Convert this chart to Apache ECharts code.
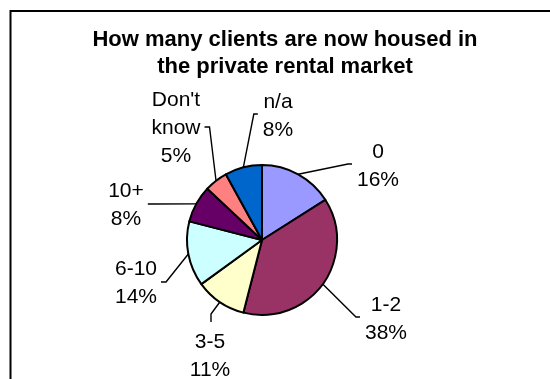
<!DOCTYPE html>
<html>
<head>
<meta charset="utf-8">
<script src="https://cdn.jsdelivr.net/npm/echarts@6/dist/echarts.min.js"></script>
<style>
  html, body { margin: 0; padding: 0; background: #ffffff; }
  #chart { width: 550px; height: 379px; }
</style>
</head>
<body>
<div id="chart"></div>
<script>
// Survey answers: number of clients now housed in the private rental market
const categories = ['0', '1-2', '3-5', '6-10', '10+', "Don't know", 'n/a'];
const shares = [16, 38, 11, 14, 8, 5, 8];
const sliceColors = ['#9999FF', '#993366', '#FFFFCC', '#CCFFFF', '#660066', '#FF8080', '#0066CC'];

const titleLines = ['How many clients are now housed in', 'the private rental market'];

// Where each label block sits and which side its leader line attaches to
const labelSpots = [
  { x: 378, y: 166, side: 'right' },
  { x: 386, y: 319, side: 'right' },
  { x: 210, y: 356, side: 'below' },
  { x: 136, y: 283, side: 'left' },
  { x: 126, y: 205, side: 'left' },
  { x: 176, y: 128, side: 'left' },
  { x: 278, y: 116, side: 'right' }
];

const FONT = '"Liberation Sans", Arial, sans-serif';

const chart = echarts.init(document.getElementById('chart'), null, { renderer: 'canvas' });

const pieData = categories.map((name, i) => ({
  name: name,
  value: shares[i],
  itemStyle: { color: sliceColors[i] }
}));

chart.setOption({
  backgroundColor: '#ffffff',
  animation: false,
  graphic: [
    {
      type: 'rect',
      shape: { x: 10.5, y: 11, width: 620, height: 420 },
      style: { fill: 'none', stroke: '#000000', lineWidth: 2 },
      silent: true
    },
    {
      type: 'text',
      x: 285,
      y: 26.5,
      style: {
        text: titleLines.join('\n'),
        font: 'bold 22px ' + FONT,
        fill: '#000000',
        textAlign: 'center',
        textVerticalAlign: 'top',
        lineHeight: 27
      }
    }
  ],
  series: [{
    type: 'pie',
    center: [262, 240],
    radius: 75,
    startAngle: 90,
    clockwise: true,
    data: pieData,
    itemStyle: { borderColor: '#000000', borderWidth: 2 },
    emphasis: { disabled: true },
    label: {
      show: true,
      position: 'outside',
      color: '#000000',
      fontFamily: FONT,
      fontSize: 21,
      lineHeight: 28,
      align: 'center',
      formatter: p => p.name.split(' ').join('\n') + '\n' + p.value + '%'
    },
    labelLine: {
      show: true,
      length: 10,
      length2: 5,
      lineStyle: { color: '#000000', width: 1.4 }
    },
    labelLayout: function (params) {
      const spot = labelSpots[params.dataIndex];
      const w = params.labelRect.width;
      const h = params.labelRect.height;
      const edge = params.labelLinePoints ? params.labelLinePoints[0] : [spot.x, spot.y];
      let end, elbow;
      if (spot.side === 'right') {
        end = [spot.x - w / 2 - 5, spot.y - 2];
        elbow = [end[0] - 4, end[1]];
      } else if (spot.side === 'left') {
        end = [spot.x + w / 2 + 4, spot.y - 1];
        elbow = [end[0] + 5, end[1]];
      } else {
        end = [spot.x + 1, spot.y - h / 2 - 6];
        elbow = [end[0], end[1] - 8];
      }
      return {
        x: spot.x,
        y: spot.y,
        align: 'center',
        verticalAlign: 'middle',
        labelLinePoints: [edge, elbow, end]
      };
    }
  }]
});
</script>
</body>
</html>
